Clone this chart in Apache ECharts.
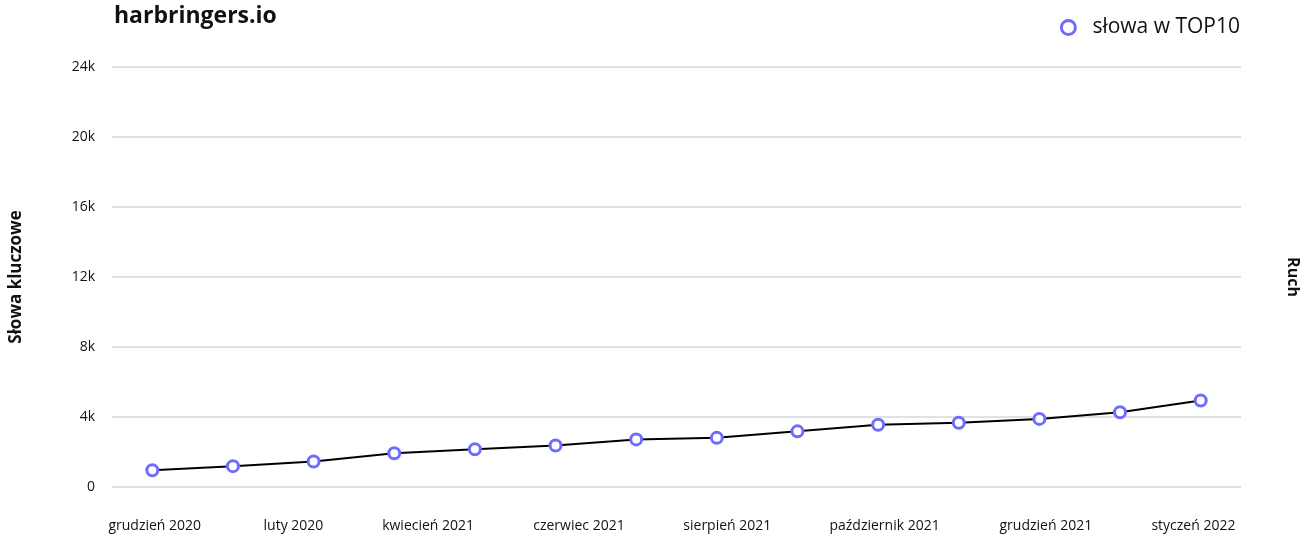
<!DOCTYPE html>
<html>
<head>
<meta charset="utf-8">
<script src="https://cdn.jsdelivr.net/npm/echarts@6/dist/echarts.min.js"></script>
<style>
  html, body { margin: 0; padding: 0; background: #fff; }
  #chart { width: 1309px; height: 537px; }
</style>
</head>
<body>
<div id="chart"></div>
<script>
// dane
const months = ['2020-12', '2021-01', '2021-02', '2021-03', '2021-04', '2021-05', '2021-06',
  '2021-07', '2021-08', '2021-09', '2021-10', '2021-11', '2021-12', '2022-01'];
const top10 = [960, 1190, 1460, 1930, 2160, 2370, 2720, 2810, 3180, 3560, 3670, 3890, 4270, 4940];
// etykiety osi X (pozycja w jednostkach indeksu miesiąca)
const tickNames = ['grudzień 2020', 'luty 2020', 'kwiecień 2021', 'czerwiec 2021',
  'sierpień 2021', 'październik 2021', 'grudzień 2021', 'styczeń 2022'];
const tickPos = [0.03, 1.75, 3.42, 5.29, 7.13, 9.08, 11.08, 12.91];
const yTicks = [0, 4000, 8000, 12000, 16000, 20000, 24000];

const FONT = '"Open Sans", Lato, sans-serif';
const PURPLE = '#6e6cff';

const chart = echarts.init(document.getElementById('chart'));

const option = {
  animation: false,
  textStyle: { fontFamily: FONT },
  title: {
    text: 'harbringers.io',
    left: 109,
    top: 0,
    textStyle: { fontSize: 23, fontWeight: 'bold', color: '#111', fontFamily: FONT }
  },
  legend: {
    right: 64,
    top: 12,
    icon: 'circle',
    itemWidth: 14,
    itemHeight: 14,
    itemGap: 10,
    itemStyle: { color: '#fff', borderColor: PURPLE, borderWidth: 3 },
    textStyle: { fontSize: 21, color: '#111', fontFamily: FONT, padding: [0, 0, 0, 12] },
    data: ['słowa w TOP10']
  },
  grid: { left: 110, right: 63, top: 67, bottom: 50, containLabel: false },
  xAxis: [
    {
      type: 'category',
      data: months,
      boundaryGap: true,
      axisLine: { show: false },
      axisTick: { show: false },
      axisLabel: { show: false },
      splitLine: { show: false }
    },
    {
      type: 'value',
      position: 'bottom',
      min: -0.5,
      max: 13.5,
      axisLine: { show: false },
      axisTick: { show: false },
      splitLine: { show: false },
      axisLabel: {
        customValues: tickPos,
        margin: 32,
        fontSize: 14,
        color: '#111',
        formatter: (v) => tickNames[tickPos.indexOf(v)]
      }
    }
  ],
  yAxis: [
    {
      type: 'value',
      min: 0,
      max: 24000,
      interval: 4000,
      name: 'Słowa kluczowe',
      nameLocation: 'middle',
      nameGap: 87,
      nameTextStyle: { fontSize: 17, fontWeight: 'bold', color: '#111' },
      axisLine: { show: false },
      axisTick: { show: false },
      axisLabel: {
        margin: 17,
        fontSize: 14,
        color: '#111',
        formatter: (v) => (v === 0 ? '0' : (v / 1000) + 'k')
      },
      splitLine: { lineStyle: { color: '#e2e2e2', width: 2 } }
    },
    {
      type: 'value',
      position: 'right',
      min: 0,
      max: 24000,
      name: 'Ruch',
      nameLocation: 'middle',
      nameGap: 44,
      nameRotate: -90,
      nameTextStyle: { fontSize: 16, fontWeight: 'bold', color: '#111' },
      axisLine: { show: false },
      axisTick: { show: false },
      axisLabel: { show: false },
      splitLine: { show: false }
    }
  ],
  series: [
    {
      name: 'słowa w TOP10',
      type: 'line',
      xAxisIndex: 0,
      yAxisIndex: 0,
      data: top10,
      symbol: 'circle',
      symbolSize: 11,
      showSymbol: true,
      lineStyle: { color: '#000', width: 2 },
      itemStyle: { color: '#fff', borderColor: PURPLE, borderWidth: 3 },
      z: 3
    }
  ]
};

chart.setOption(option);
</script>
</body>
</html>
